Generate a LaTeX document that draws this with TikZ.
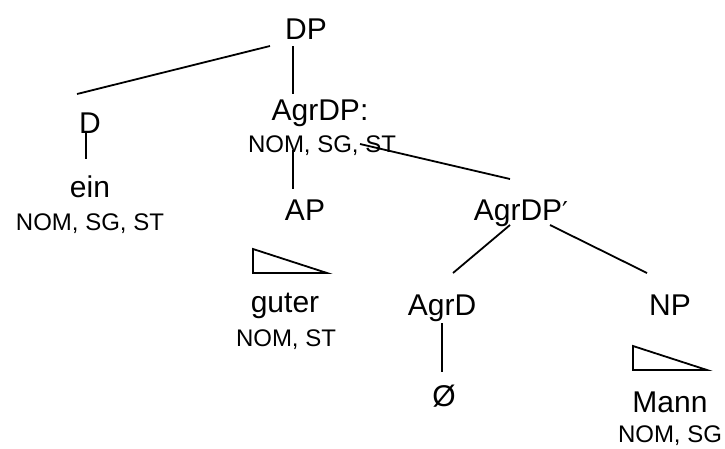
\documentclass[tikz,border=0pt]{standalone}
\usepackage{fontspec}
\setmainfont{Liberation Sans}
\newfontfamily\primefont{DejaVu Sans}
\begin{document}
\begin{tikzpicture}[x=1pt,y=-1pt,
  big/.style={anchor=base,inner sep=0pt,font=\fontsize{30}{34}\selectfont},
  small/.style={anchor=base,inner sep=0pt,font=\fontsize{24}{28}\selectfont},
  branch/.style={line width=1.8pt},
  tri/.style={line width=1.8pt,line join=miter}]
\useasboundingbox (0,0) rectangle (725,448);
% labels
\node[big] (DP) at (306,39) {DP};
\node[big] (D) at (90,133) {D};
\node[big] (ein) at (90,197) {ein};
\node[small] (einf) at (90,230) {NOM, SG, ST};
\node[big] (AgrDP) at (320,120) {AgrDP:};
\node[small] (AgrDPf) at (322,152) {NOM, SG, ST};
\node[big] (AP) at (305,220) {AP};
\node[big] (AgrDPb) at (521,220) {AgrDP{\primefont\fontsize{26}{30}\selectfont′}};
\node[big] (guter) at (285,312) {guter};
\node[small] (guterf) at (286,346) {NOM, ST};
\node[big] (AgrD) at (442,315) {AgrD};
\node[big] (NP) at (670,315) {NP};
\node[big] (null) at (444,406) {Ø};
\node[big] (Mann) at (670,412) {Mann};
\node[small] (Mannf) at (670,442) {NOM, SG};
% connector end points
\coordinate (c1) at (270,46);
\coordinate (c2) at (77,94);
\coordinate (c3) at (293,46);
\coordinate (c4) at (293,94);
\coordinate (c5) at (86,133);
\coordinate (c6) at (86,159);
\coordinate (c7) at (293,150);
\coordinate (c8) at (293,189);
\coordinate (c9) at (360,144);
\coordinate (c10) at (510,179);
\coordinate (c11) at (510,225);
\coordinate (c12) at (453,273);
\coordinate (c13) at (550,225);
\coordinate (c14) at (647,273);
\coordinate (c15) at (442,323);
\coordinate (c16) at (442,372);
% branches
\draw[branch] (c1) -- (c2);
\draw[branch] (c3) -- (c4);
\draw[branch] (c5) -- (c6);
\draw[branch] (c7) -- (c8);
\draw[branch] (c9) -- (c10);
\draw[branch] (c11) -- (c12);
\draw[branch] (c13) -- (c14);
\draw[branch] (c15) -- (c16);
% triangles
\draw[tri] (253,249) -- (253,273) -- (327,273) -- cycle;
\draw[tri] (633,346) -- (633,370) -- (707,370) -- cycle;
\end{tikzpicture}
\end{document}
